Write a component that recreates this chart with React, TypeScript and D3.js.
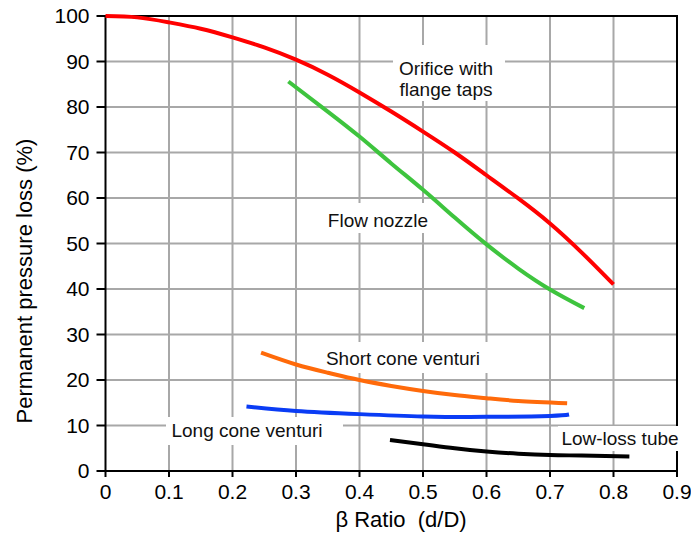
import React from 'react';
import * as d3 from 'd3';

// beta ratio vs permanent pressure loss (%)
const orifice = [
  [0, 100], [0.05, 99.7], [0.1, 98.6], [0.15, 97.2], [0.2, 95.3], [0.25, 93.1],
  [0.3, 90.4], [0.35, 87.1], [0.4, 83.2], [0.45, 79], [0.5, 74.6], [0.55, 70],
  [0.6, 65], [0.65, 59.9], [0.7, 54.4], [0.75, 48], [0.8, 41],
];
const flowNozzle = [
  [0.288, 85.6], [0.35, 79.0], [0.4, 73.5], [0.45, 67.6], [0.5, 61.8],
  [0.55, 55.7], [0.6, 49.8], [0.65, 44.5], [0.7, 39.9], [0.754, 35.8],
];
const shortCone = [
  [0.245, 26], [0.3, 23.4], [0.35, 21.6], [0.4, 20], [0.45, 18.7], [0.5, 17.6],
  [0.55, 16.7], [0.6, 16], [0.65, 15.4], [0.727, 14.9],
];
const longCone = [
  [0.222, 14.2], [0.3, 13.2], [0.4, 12.5], [0.5, 12], [0.6, 11.9], [0.7, 12.1], [0.73, 12.4],
];
const lowLoss = [
  [0.448, 6.8], [0.5, 5.9], [0.55, 5], [0.6, 4.3], [0.65, 3.8], [0.7, 3.5], [0.75, 3.4], [0.825, 3.2],
];

const xTicks = [0, 0.1, 0.2, 0.3, 0.4, 0.5, 0.6, 0.7, 0.8, 0.9];
const yTicks = [0, 10, 20, 30, 40, 50, 60, 70, 80, 90, 100];

const series = [
  { name: 'orifice', data: orifice, color: '#ff0000' },
  { name: 'nozzle', data: flowNozzle, color: '#3ec43e' },
  { name: 'short', data: shortCone, color: '#ff6a0a' },
  { name: 'long', data: longCone, color: '#0a3cf5' },
  { name: 'lowloss', data: lowLoss, color: '#000000' },
];

const FONT = '"Liberation Sans", Arial, sans-serif';

export default function App() {
  const x = d3.scaleLinear().domain([0, 0.9]).range([105.5, 677]);
  const y = d3.scaleLinear().domain([0, 100]).range([471, 16]);

  const line = d3.line<number[]>()
    .x(d => x(d[0]))
    .y(d => y(d[1]))
    .curve(d3.curveNatural);

  // white boxes behind the curve labels (they hide the grid)
  const boxes = [
    [393, 45, 112, 56],
    [325, 203, 105, 30],
    [320, 342, 170, 31],
    [166, 417, 177, 28],
    [558, 426, 122, 25],
  ];

  return (
    <svg width={691} height={535} style={{ position: 'absolute', left: 0, top: 0, background: '#fff' }}
      fontFamily={FONT}>
      <rect x={0} y={0} width={691} height={535} fill="#fff" />
      <g stroke="#a8a8a8" strokeWidth={2}>
        {xTicks.slice(1, -1).map(t => (
          <line key={'gx' + t} x1={x(t)} x2={x(t)} y1={y(100)} y2={y(0)} />
        ))}
        {yTicks.slice(1, -1).map(t => (
          <line key={'gy' + t} x1={x(0)} x2={x(0.9)} y1={y(t)} y2={y(t)} />
        ))}
      </g>
      <rect x={x(0)} y={y(100)} width={x(0.9) - x(0)} height={y(0) - y(100)}
        fill="none" stroke="#000" strokeWidth={2} />
      <g stroke="#000" strokeWidth={2}>
        {yTicks.map(t => (
          <line key={'ty' + t} x1={x(0) - 9} x2={x(0)} y1={y(t)} y2={y(t)} />
        ))}
        {xTicks.map(t => (
          <line key={'tx' + t} x1={x(t)} x2={x(t)} y1={y(0)} y2={y(0) + 6} />
        ))}
      </g>
      <g fontSize={21} fill="#000">
        {yTicks.map(t => (
          <text key={'ly' + t} x={x(0) - 16} y={y(t)} dy="0.35em" textAnchor="end">{t}</text>
        ))}
        {xTicks.map(t => (
          <text key={'lx' + t} x={x(t)} y={499} textAnchor="middle">{t}</text>
        ))}
      </g>
      <text x={401} y={527} fontSize={22} textAnchor="middle" style={{ whiteSpace: 'pre' }}>β Ratio  (d/D)</text>
      <text transform="translate(32,281) rotate(-90)" fontSize={22} textAnchor="middle">Permanent pressure loss (%)</text>

      <g fill="#fff">
        {boxes.map((b, i) => (
          <rect key={'b' + i} x={b[0]} y={b[1]} width={b[2]} height={b[3]} />
        ))}
      </g>
      <g fontSize={19} fill="#111" textAnchor="middle">
        <text x={446} y={75}>Orifice with</text>
        <text x={446} y={96}>flange taps</text>
        <text x={378} y={227}>Flow nozzle</text>
        <text x={403} y={365}>Short cone venturi</text>
        <text x={247} y={437}>Long cone venturi</text>
        <text x={620} y={445}>Low-loss tube</text>
      </g>

      <g fill="none" strokeWidth={4} strokeLinecap="butt">
        {series.map(s => (
          <path key={s.name} d={line(s.data) || ''} stroke={s.color} />
        ))}
      </g>
    </svg>
  );
}
